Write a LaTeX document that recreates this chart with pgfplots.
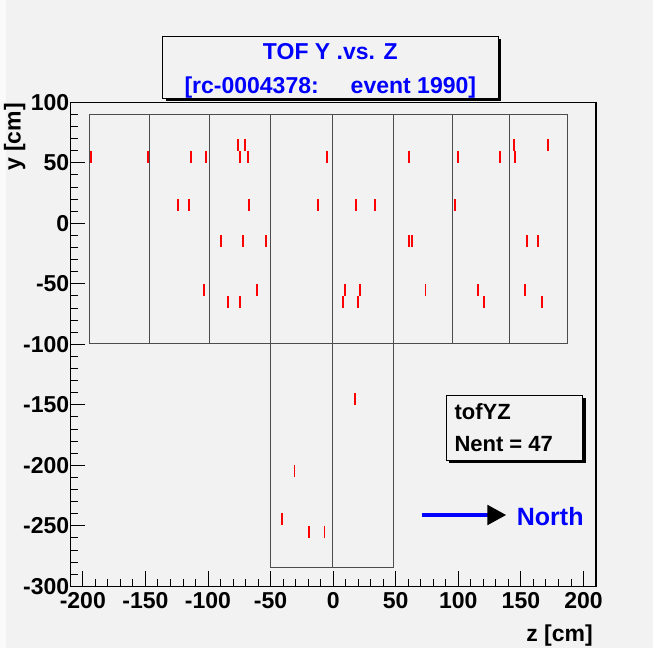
\documentclass[border=0pt]{standalone}
\usepackage{fontspec}
\setmainfont{Liberation Sans}
\usepackage{pgfplots}
\pgfplotsset{compat=1.18}
\definecolor{rootbg}{RGB}{242,242,242}
\definecolor{rootblue}{RGB}{0,0,255}
\definecolor{hitred}{RGB}{255,0,0}
\newcommand{\rf}[1]{\fontsize{#1}{#1}\selectfont\bfseries}
\begin{document}
\begin{tikzpicture}
% canvas (653 x 648)
\path[fill=rootbg, use as bounding box] (-70.3pt,-61.7pt) rectangle (582.7pt,586.3pt);
\fill[white!60!rootbg] (-70.3pt,-61.7pt) rectangle (-64pt,586.3pt);
\begin{axis}[
    at={(0pt,0pt)}, anchor=south west,
    width=525.7pt, height=484pt, scale only axis,
    xmin=-210, xmax=210, ymin=-300, ymax=100,
    axis background/.style={fill=rootbg},
    xtick={-200,-150,...,200}, ytick={-300,-250,...,100},
    xticklabels={-200,-150,-100,-50,0,50,100,150,200},
    yticklabels={-300,-250,-200,-150,-100,-50,0,50,100},
    minor tick num=4,
    tick align=inside, tick pos=left,
    major tick length=15pt, minor tick length=7.5pt,
    tick style={black, line width=0.9pt},
    axis line style={line width=1.2pt},
    ticklabel style={font=\rf{23}},
    xticklabel style={yshift=-3pt},
    yticklabel style={xshift=2.5pt},
    unbounded coords=jump,
    clip=false,
]
% TOF module outlines
\addplot[black!70, line width=0.9pt] coordinates {
  (-195,-99)(187.4,-99)(187.4,90.3)(-195,90.3)(-195,-99)
  (nan,nan) (-146.4,-99)(-146.4,90.3)
  (nan,nan) (-99.2,-99)(-99.2,90.3)
  (nan,nan) (140.6,-99)(140.6,90.3)
  (nan,nan) (95.2,-99)(95.2,90.3)
  (nan,nan) (-50.2,90.3)(-50.2,-284.5)(48,-284.5)(48,90.3)
  (nan,nan) (-0.2,90.3)(-0.2,-284.5)
};
% hits
\addplot[only marks, mark=|, mark size=6pt, mark options={draw=hitred, line width=1.9pt}] coordinates {
  (-193.4,55)(-147.8,55)(-113.6,55)(-101.6,55)(-74.6,55)(-68.2,55)(-4.6,55)
  (-75.8,65)(-70.2,65)
  (-123.8,15)(-115.4,15)(-67.2,15)(-11.8,15)
  (-89.4,-15)(-72,-15)(-53.4,-15)
  (-103.4,-55)(-60.8,-55)
  (-83.8,-65)(-74.6,-65)
  (60.6,55)(99.4,55)(133.6,55)(145.6,55)
  (144.8,65)(171.4,65)
  (18.6,15)(33.6,15)(97.6,15)
  (60.6,-15)(63,-15)(155,-15)(164,-15)
  (9.6,-55)(21.6,-55)(73.8,-55)(116,-55)(153,-55)
  (7.8,-65)(19.8,-65)(120.6,-65)(167,-65)
  (17.1,-145)(-30.9,-205)(-41.2,-244)(-19.1,-255)(-6.9,-255)
};
\end{axis}
% axis titles
\node[rotate=90, anchor=base east, inner sep=0pt, font=\rf{23}] at (-49.6pt,483.3pt) {y [cm]};
\node[anchor=base east, inner sep=0pt, font=\rf{23}] at (522.7pt,-55pt) {z [cm]};
% title pave
\fill[black] (95.4pt,485.3pt) rectangle (430.7pt,547.3pt);
\draw[fill=rootbg, line width=0.9pt] (92.4pt,488.3pt) rectangle (427.7pt,550.3pt);
\node[anchor=base, inner sep=0pt, text=rootblue, font=\rf{23}] at (260pt,527pt) {TOF Y .vs. Z};
\node[anchor=base, inner sep=0pt, text=rootblue, font=\rf{23}] at (260pt,492.3pt) {[rc-0004378:\hspace{32pt}event 1990]};
% stats pave
\fill[black] (378.7pt,123.3pt) rectangle (515.4pt,188.3pt);
\draw[fill=rootbg, line width=0.9pt] (375.7pt,126.3pt) rectangle (512.4pt,191.3pt);
\node[anchor=base west, inner sep=0pt, font=\rf{22}] at (384pt,166.3pt) {tofYZ};
\node[anchor=base west, inner sep=0pt, font=\rf{22}] at (384pt,135.3pt) {Nent = 47};
% north arrow
\draw[rootblue, line width=3.3pt] (351.4pt,71.3pt) -- (418pt,71.3pt);
\fill[black] (417pt,81.6pt) -- (435.7pt,71.3pt) -- (417pt,61pt) -- cycle;
\node[anchor=base west, inner sep=0pt, text=rootblue, font=\rf{25}] at (446.4pt,60.6pt) {North};
\end{tikzpicture}
\end{document}
